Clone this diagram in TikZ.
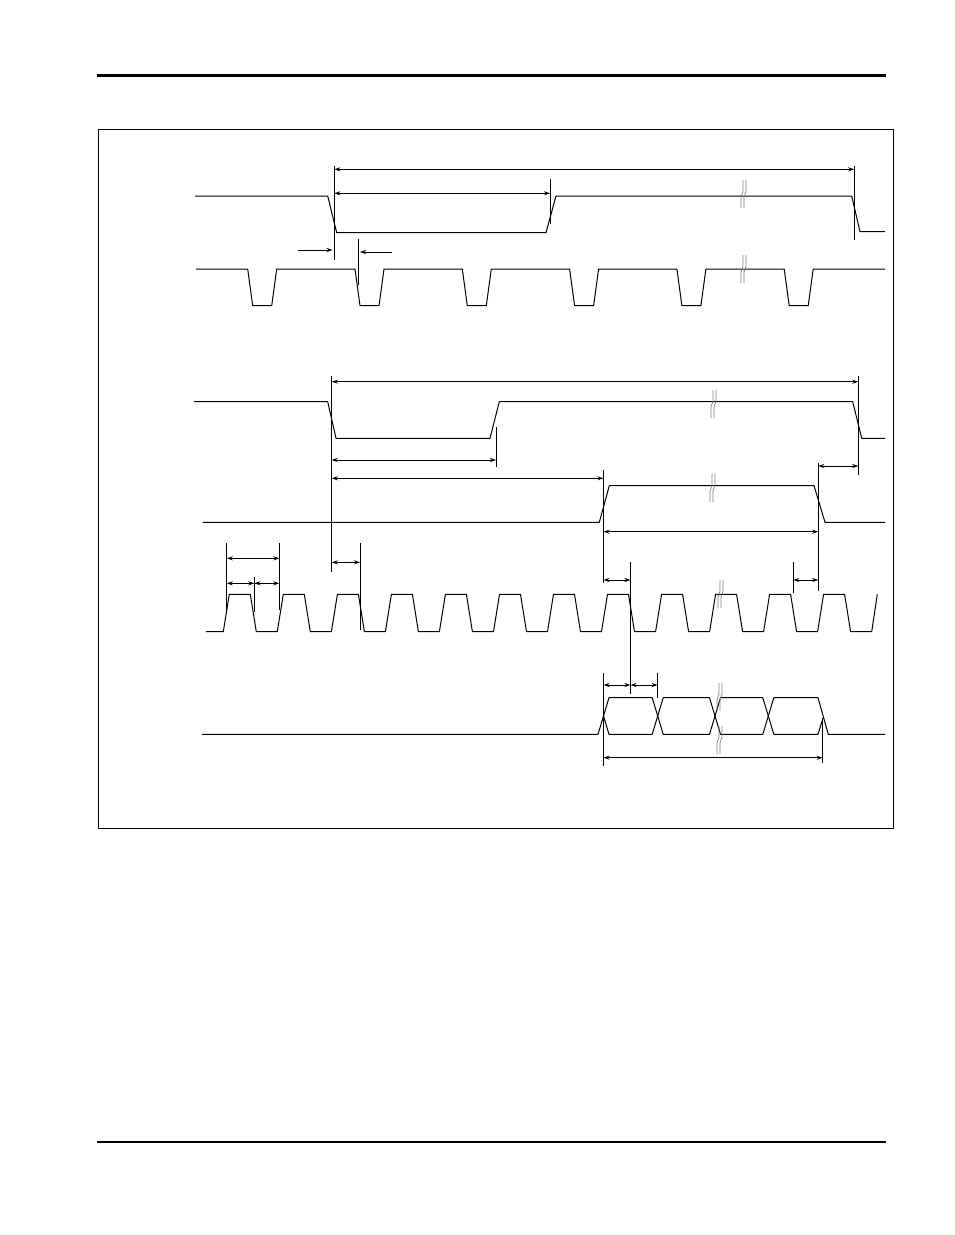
\documentclass[tikz,border=0pt]{standalone}
\usetikzlibrary{arrows.meta}

\begin{document}
\begin{tikzpicture}[x=1pt, y=-1pt,
    wave/.style={line width=1pt, line join=round},
    refline/.style={line width=1pt},
    dim/.style={line width=1pt, {Stealth[length=6pt,width=4pt]}-{Stealth[length=6pt,width=4pt]}},
    dimto/.style={line width=1pt, -{Stealth[length=6pt,width=4pt]}},
    brkmark/.pic={
        \draw[gray, line width=0.7pt] (1,-14) -- (1,-3) .. controls (1,0) and (-1,0) .. (-1,3) -- (-1,14);
        \draw[gray, line width=0.7pt] (4,-14) -- (4,-3) .. controls (4,0) and (2,0) .. (2,3) -- (2,14);
    }]
    \useasboundingbox (0,0) rectangle (954,1235);

    % Page rules and frame
    \draw[line width=3pt] (97,75) -- (886,75);
    \draw[line width=2pt] (97,1142) -- (886,1142);
    \draw[line width=1pt] (98,129) rectangle (893,828);

    % Upper group: select and strobe
    \draw[wave] (195,196) -- (327.7,196) -- (336.7,232.7) -- (546,232.7) -- (556,196)
        -- (851.7,196) -- (860,231.7) -- (885,231.7);
    \draw[wave] (196,269) \foreach \f in {247.7,355,462.3,569.6,676.9,784.2} {
        -- (\f,269) -- (\f+5,305.7) -- (\f+24,305.7) -- (\f+29,269) } -- (885,269);
    \pic at (742,194) {brkmark};
    \pic at (742,269) {brkmark};

    % Upper group: timing marks
    \draw[refline] (334.3,166) -- (334.3,260);
    \draw[refline] (854.3,166) -- (854.3,240);
    \draw[refline] (550,179) -- (550,224);
    \draw[refline] (358.3,239) -- (358.3,285);
    \draw[dim] (334.3,169.3) -- (854.3,169.3);
    \draw[dim] (334.3,193.3) -- (550,193.3);
    \draw[dimto] (298,250) -- (332.5,250);
    \draw[dimto] (391.7,252) -- (360,252);

    % Lower group: waveforms
    \draw[wave] (194,401.7) -- (327.7,401.7) -- (336,438.3) -- (490,438.3) -- (499.3,401.7)
        -- (852.7,401.7) -- (861.7,438.3) -- (885,438.3);
    \draw[wave] (202.7,522.3) -- (599.3,522.3) -- (609.3,485.7) -- (814,485.7) -- (825,522.3)
        -- (885,522.3);
    \draw[wave] (206,631.7) \foreach \r in {223.3,277.3,331.4,385.4,439.4,493.5,547.5,601.5,655.6,709.6,763.6,817.6} {
        -- (\r,631.7) -- (\r+6,594.3) -- (\r+27,594.3) -- (\r+33,631.7) } -- (871.7,631.7) -- (877.3,594.3);
    \pic at (712,404) {brkmark};
    \pic at (711,488) {brkmark};
    \pic at (719,594) {brkmark};

    % Data bus
    \draw[wave] (202,734.3) -- (598,734.3) -- (609,697.7) -- (652.2,697.7) -- (663.2,734.3)
        -- (709.5,734.3) -- (720.5,697.7) -- (762.8,697.7) -- (773.8,734.3) -- (818,734.3) -- (823,718);
    \draw[wave] (603.5,716) -- (609,734.3) -- (652.2,734.3) -- (663.2,697.7) -- (709.5,697.7)
        -- (720.5,734.3) -- (762.8,734.3) -- (773.8,697.7) -- (818,697.7) -- (828.3,734.3) -- (885,734.3);
    \pic at (718,697) {brkmark};
    \pic at (718,740) {brkmark};

    % Lower group: timing marks
    \draw[refline] (331.7,376) -- (331.7,572);
    \draw[refline] (858.3,376) -- (858.3,475);
    \draw[refline] (496,427) -- (496,467);
    \draw[refline] (603.5,470) -- (603.5,583);
    \draw[refline] (818.3,463) -- (818.3,591);
    \draw[refline] (226.7,543) -- (226.7,610);
    \draw[refline] (279.3,543) -- (279.3,610);
    \draw[refline] (254.3,577) -- (254.3,612);
    \draw[refline] (360,543) -- (360,630);
    \draw[refline] (630.5,562) -- (630.5,694);
    \draw[refline] (793.3,562) -- (793.3,593);
    \draw[refline] (603.5,673) -- (603.5,766);
    \draw[refline] (657.7,673) -- (657.7,698);
    \draw[refline] (822.7,718) -- (822.7,763);

    \draw[dim] (331.7,381.7) -- (858.3,381.7);
    \draw[dim] (331.7,460) -- (496,460);
    \draw[dim] (331.7,478.3) -- (603.5,478.3);
    \draw[dim] (818.3,466) -- (858.3,466);
    \draw[dim] (603.5,531.7) -- (818.3,531.7);
    \draw[dim] (226.7,558.3) -- (279.3,558.3);
    \draw[dim] (226.7,583.3) -- (254.3,583.3);
    \draw[dim] (254.3,583.3) -- (279.3,583.3);
    \draw[dim] (331.7,562.3) -- (360,562.3);
    \draw[dim] (603.5,580) -- (630.5,580);
    \draw[dim] (793.3,580) -- (818.3,580);
    \draw[dim] (603.5,685) -- (630.5,685);
    \draw[dim] (630.5,685) -- (657.7,685);
    \draw[dim] (603.5,757.7) -- (822.7,757.7);
\end{tikzpicture}
\end{document}
